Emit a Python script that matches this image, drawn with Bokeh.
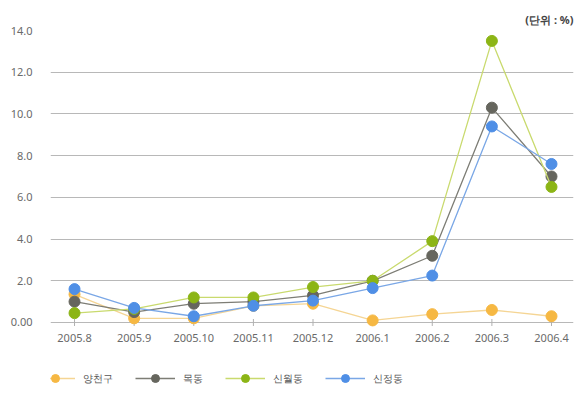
from bokeh.plotting import figure
from bokeh.models import Range1d, FixedTicker, Legend, LegendItem, Title, ColumnDataSource
from bokeh.core.properties import value
from bokeh.embed import file_html
from bokeh.resources import INLINE

months = ["2005.8", "2005.9", "2005.10", "2005.11", "2005.12", "2006.1", "2006.2", "2006.3", "2006.4"]
yangcheon = [1.35, 0.2, 0.2, 0.8, 0.9, 0.1, 0.4, 0.6, 0.3]
mokdong = [1.0, 0.5, 0.9, 1.0, 1.3, 2.0, 3.2, 10.3, 7.0]
sinwol = [0.45, 0.65, 1.2, 1.2, 1.7, 2.0, 3.9, 13.5, 6.5]
sinjeong = [1.6, 0.7, 0.3, 0.8, 1.05, 1.65, 2.25, 9.4, 7.6]
series_names = ["양천구", "목동", "신월동", "신정동"]
y_ticks = [0, 2, 4, 6, 8, 10, 12, 14]
y_tick_labels = ["0.00", "2.0", "4.0", "6.0", "8.0", "10.0", "12.0", "14.0"]
unit_text = "(단위 : %)"

FONT = "Noto Sans"
xs = list(range(len(months)))

# frame: top at y=30 (value 14), 20.857 px per unit, extends down to y=400
p = figure(width=583, height=407, output_backend="svg", toolbar_location=None,
           x_range=Range1d(-0.403, 8.369), y_range=Range1d(-3.74, 14),
           min_border_left=50, min_border_right=10, min_border_top=30, min_border_bottom=7)
p.outline_line_color = None
p.background_fill_color = "white"
p.xaxis.visible = False

p.yaxis.ticker = FixedTicker(ticks=y_ticks)
p.yaxis.major_label_overrides = {t: l for t, l in zip(y_ticks, y_tick_labels)}
p.yaxis.axis_line_color = None
p.yaxis.major_tick_line_color = None
p.yaxis.minor_tick_line_color = None
p.yaxis.major_label_standoff = 12
p.yaxis.major_label_text_font = FONT
p.yaxis.major_label_text_font_size = "11px"
p.yaxis.major_label_text_color = "#6a6a6a"

p.xgrid.grid_line_color = None
p.ygrid.ticker = FixedTicker(ticks=y_ticks)
p.ygrid.grid_line_color = "#b8b8b8"
p.ygrid.grid_line_width = 1

# category labels & small tick marks on the zero line
lab_src = ColumnDataSource(dict(x=xs, y=[0] * len(xs), label=months))
p.scatter("x", "y", source=lab_src, marker="dash", angle=1.5708, size=7,
          line_color="#b0b0b0", line_width=1)
p.text(x="x", y=-0.72, text="label", source=lab_src, text_align="center",
       text_baseline="middle", text_font=value(FONT), text_font_size="11px",
       text_color="#6a6a6a")

line_colors = ["#f5d594", "#7d7d75", "#c9da6e", "#7aa7e6"]
marker_colors = ["#f6b843", "#66665e", "#8cb516", "#4f8fe6"]
data = [yangcheon, mokdong, sinwol, sinjeong]

items = []
for name, vals, lc, mc in zip(series_names, data, line_colors, marker_colors):
    src = ColumnDataSource(dict(x=xs, y=vals))
    r1 = p.line("x", "y", source=src, line_color=lc, line_width=1.3)
    r2 = p.scatter("x", "y", source=src, size=11, fill_color=mc, line_color=mc)
    items.append(LegendItem(label=name, renderers=[r1, r2]))

legend = Legend(items=items, orientation="horizontal", location=(-15, 12),
                glyph_width=40, glyph_height=20, label_standoff=8, spacing=22,
                padding=0, margin=0, border_line_color=None, background_fill_alpha=0,
                label_text_font=FONT, label_text_font_size="10px", label_text_color="#555555")
p.add_layout(legend, "center")

p.add_layout(Title(text=unit_text, align="right", text_font=FONT, text_font_size="11px",
                   text_font_style="bold", text_color="#444444", standoff=8), "above")

open("out.html", "w").write(file_html(p, INLINE))
